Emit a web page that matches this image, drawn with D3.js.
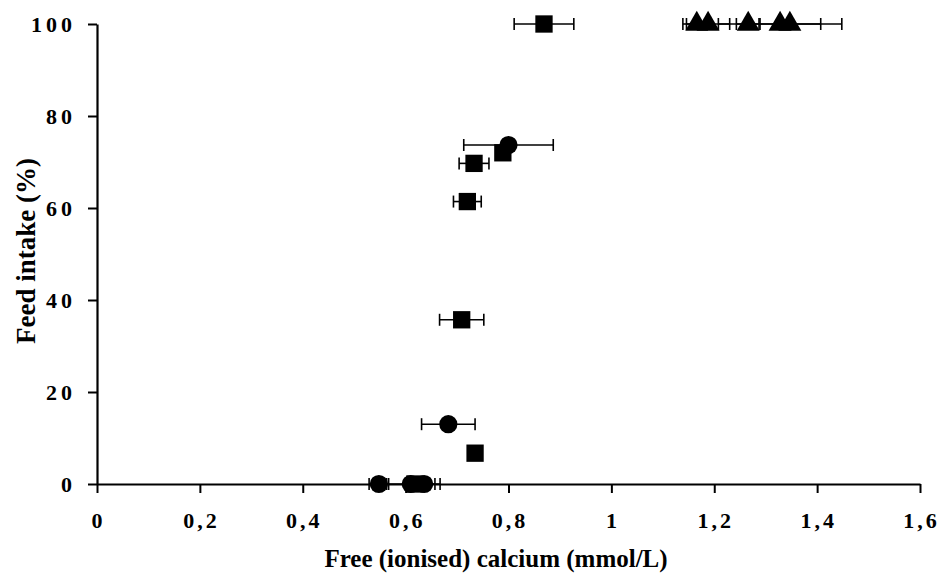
<!DOCTYPE html>
<html>
<head>
<meta charset="utf-8">
<script src="https://cdn.jsdelivr.net/npm/d3@7"></script>
<style>
  body { margin: 0; background: #fff; }
  text { font-family: "Liberation Serif", "Times New Roman", serif; font-weight: bold; fill: #000; }
</style>
</head>
<body>
<div id="chart"></div>
<script>
// calcium (mmol/L), feed intake (%), horizontal error (+/-)
var squareX   = [0.869, 0.789, 0.733, 0.720, 0.709, 0.735, 0.618];
var squareY   = [100,   72,    69.7,  61.4,  35.7,  6.7,   0];
var squareErr = [0.058, 0,     0.029, 0.027, 0.043, 0,     0];

var circleX   = [0.800, 0.683, 0.548, 0.610, 0.636];
var circleY   = [73.7,  13,    0,     0,     0];
var circleErr = [0.087, 0.052, 0.019, 0.047, 0.031];

var triangleX   = [1.166, 1.188, 1.266, 1.328, 1.347];
var triangleY   = [100,   100,   100,   100,   100];
var triangleErr = [0.027, 0.042, 0.023, 0.12,  0.06];

var xTicks = [0, 0.2, 0.4, 0.6, 0.8, 1, 1.2, 1.4, 1.6];
var yTicks = [0, 20, 40, 60, 80, 100];

var outerWidth = 939, outerHeight = 576;
var margin = {top: 24, right: 18, bottom: 92, left: 97};

var svg = d3.select("#chart").append("svg")
  .attr("width", outerWidth)
  .attr("height", outerHeight);

var g = svg.append("g")
  .attr("transform", "translate(" + margin.left + "," + margin.top + ")");

var width = outerWidth - margin.left - margin.right;
var height = outerHeight - margin.top - margin.bottom;

var x = d3.scaleLinear().domain([0, 1.6]).range([0, width - 1]);
var y = d3.scaleLinear().domain([0, 100]).range([height, 0]);

var fmt = function(d){ return String(d).replace(".", ","); };

var xAxis = g.append("g")
  .attr("transform", "translate(0," + height + ")")
  .call(d3.axisBottom(x).tickValues(xTicks).tickFormat(fmt).tickSize(9).tickSizeOuter(0));

var yAxis = g.append("g")
  .call(d3.axisLeft(y).tickValues(yTicks).tickSize(9).tickSizeOuter(0));

[xAxis, yAxis].forEach(function(a){
  a.select(".domain").attr("stroke", "#000").attr("stroke-width", 2.2);
  a.selectAll(".tick line").attr("stroke", "#000").attr("stroke-width", 2);
  a.selectAll(".tick text")
    .attr("font-family", "Liberation Serif, serif")
    .attr("font-weight", "bold")
    .attr("font-size", 22)
    .attr("fill", "#000");
});
xAxis.selectAll(".tick text").attr("letter-spacing", 3).attr("y", 44).attr("dy", 0).attr("dx", 1);
yAxis.selectAll(".tick text").attr("letter-spacing", 4).attr("x", -21).attr("dy", "0.34em");

// axis titles
svg.append("text")
  .attr("x", 496).attr("y", 567)
  .attr("text-anchor", "middle")
  .attr("font-size", 25)
  .text("Free (ionised) calcium (mmol/L)");

svg.append("text")
  .attr("transform", "translate(35,251) rotate(-90)")
  .attr("text-anchor", "middle")
  .attr("font-size", 27)
  .text("Feed intake (%)");

// error bars
function errorBars(xs, ys, errs) {
  var data = xs.map(function(d, i){ return {x: d, y: ys[i], e: errs[i]}; })
    .filter(function(d){ return d.e > 0; });
  var eb = g.append("g").attr("stroke", "#000").attr("stroke-width", 1.6);
  eb.selectAll(".bar").data(data).enter().append("line")
    .attr("x1", function(d){ return x(d.x - d.e); })
    .attr("x2", function(d){ return x(d.x + d.e); })
    .attr("y1", function(d){ return y(d.y); })
    .attr("y2", function(d){ return y(d.y); });
  [-1, 1].forEach(function(s){
    eb.selectAll(".cap" + s).data(data).enter().append("line")
      .attr("x1", function(d){ return x(d.x + s * d.e); })
      .attr("x2", function(d){ return x(d.x + s * d.e); })
      .attr("y1", function(d){ return y(d.y) - 6; })
      .attr("y2", function(d){ return y(d.y) + 6; });
  });
}

errorBars(squareX, squareY, squareErr);
errorBars(circleX, circleY, circleErr);
errorBars(triangleX, triangleY, triangleErr);

function points(xs, ys, type, size) {
  g.append("g").selectAll("path")
    .data(xs.map(function(d, i){ return [d, ys[i]]; }))
    .enter().append("path")
    .attr("transform", function(d){ return "translate(" + x(d[0]) + "," + y(d[1]) + ")"; })
    .attr("d", d3.symbol().type(type).size(size))
    .attr("fill", "#000");
}

points(squareX, squareY, d3.symbolSquare, 300);
points(circleX, circleY, d3.symbolCircle, 260);
points(triangleX, triangleY, d3.symbolTriangle, 230);
</script>
</body>
</html>
